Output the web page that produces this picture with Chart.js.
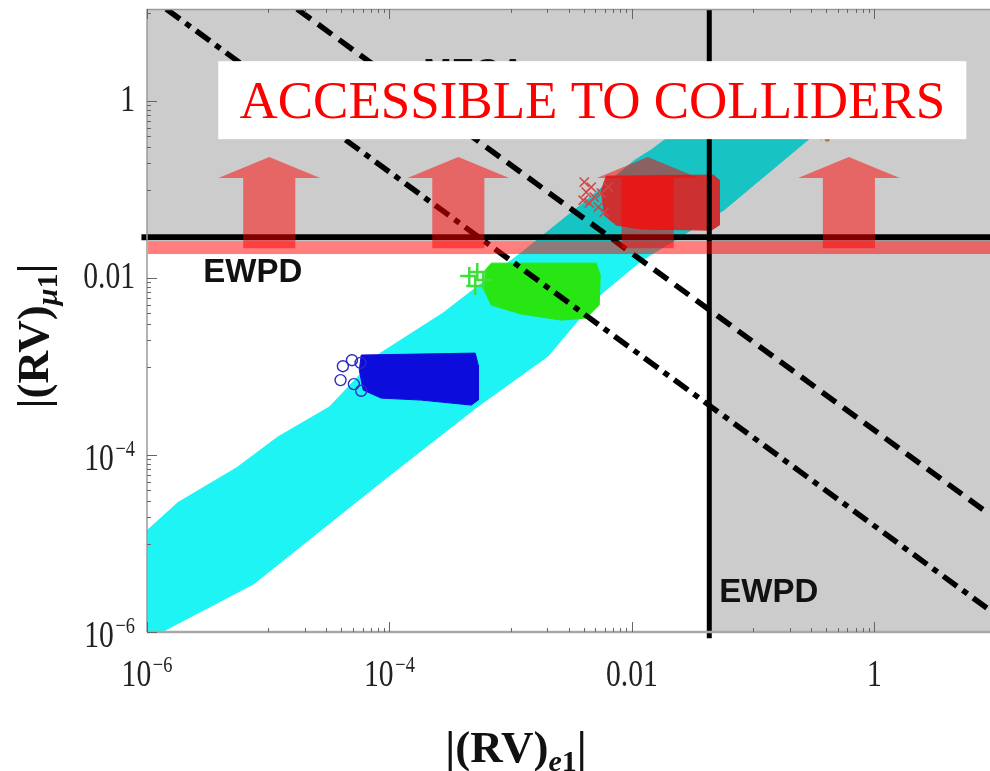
<!DOCTYPE html>
<html><head><meta charset="utf-8">
<script src="https://cdn.jsdelivr.net/npm/chart.js@4/dist/chart.umd.min.js"></script>
<style>html,body{margin:0;padding:0;background:#fff;overflow:hidden}#wrap{position:relative;width:990px;height:771px}</style>
</head><body><div id="wrap"><canvas id="c" width="990" height="771"></canvas></div>
<script>
// ---------- data ----------
const X_RANGE = [1e-6, 9];
const Y_RANGE = [1e-6, 11];
const MAJOR_TICKS = [1e-6, 1e-4, 1e-2, 1];
const MAJOR_LABELS = [['10', '\u22126'], ['10', '\u22124'], ['0.01', ''], ['1', '']];
const MINOR_DECADES = [1e-5, 1e-3, 1e-1, 10];
const MINOR_STEPS = [1, 2, 3, 4, 5, 6, 7, 8, 9];

// cyan scan band (outline of the cloud)
const cyanX = [1e-6, 1e-6, 1.8e-6, 5.5e-6, 1.2e-5, 3.2e-5, 8.3e-5, 2.75e-4, 1.26e-3, 3.98e-3, 0.0105, 0.0145, 0.0316, 0.063, 0.5,
               0.288, 0.0575, 0.0120, 0.00525, 0.00204, 5.25e-4, 8.3e-5, 7.6e-6, 1.32e-6, 1e-6];
const cyanY = [1e-6, 1.4e-5, 2.9e-5, 7.2e-5, 1.6e-4, 3.5e-4, 1.4e-3, 4.0e-3, 0.020, 0.0708, 0.214, 0.282, 0.63, 1.26, 1.26,
               0.372, 0.0589, 0.0158, 0.00617, 0.00132, 3.47e-4, 4.8e-5, 3.5e-6, 1e-6, 1e-6];
// blue benchmark cloud
const blueX = [5.85e-5, 5.1e-4, 5.4e-4, 5.4e-4, 4.73e-4, 1.83e-4, 8.55e-5, 6.08e-5, 5.64e-5, 5.85e-5];
const blueY = [1.35e-3, 1.42e-3, 1.04e-3, 4.18e-4, 3.67e-4, 4.18e-4, 4.4e-4, 5.42e-4, 9.1e-4, 1.35e-3];
const blueCircX = [4.13e-5, 4.91e-5, 5.78e-5, 3.95e-5, 5.09e-5, 5.85e-5];
const blueCircY = [1.01e-3, 1.18e-3, 1.10e-3, 7.03e-4, 6.34e-4, 5.33e-4];
// green benchmark cloud
const greenX = [6.92e-4, 5.08e-3, 5.48e-3, 5.38e-3, 4.2e-3, 2.62e-3, 1.22e-3, 6.92e-4, 6.05e-4, 6.17e-4, 6.92e-4];
const greenY = [0.01476, 0.01476, 0.0108, 4.95e-3, 3.53e-3, 3.35e-3, 3.92e-3, 4.95e-3, 7.31e-3, 0.0123, 0.01476];
const greenPlusX = [4.55e-4, 5.3e-4, 5.1e-4, 5.94e-4];
const greenPlusY = [0.01054, 0.01169, 8.13e-3, 9.49e-3];
// red benchmark cloud
const redX = [6.15e-3, 0.0470, 0.0526, 0.0526, 0.0452, 0.01197, 7.43e-3, 5.92e-3, 5.6e-3, 6.15e-3];
const redY = [0.142, 0.146, 0.128, 0.0397, 0.0348, 0.0358, 0.0397, 0.0515, 0.0986, 0.142];
const redCrossX = [4.05e-3, 4.62e-3, 4.2e-3, 4.9e-3, 5.6e-3, 4.45e-3, 5.28e-3, 5.92e-3, 6.38e-3, 3.97e-3];
const redCrossY = [0.1216, 0.1067, 0.0937, 0.0822, 0.0912, 0.0703, 0.0634, 0.0557, 0.1067, 0.0760];
// orange points (mostly hidden)
const orangeX = [0.366, 0.409];
const orangeY = [0.392, 0.372];

// bounds
const EWPD_X = 0.0435;            // |(RV)e1| bound
const EWPD_Y = 0.029;             // |(RV)mu1| bound
const ewpdVX = [EWPD_X, EWPD_X], ewpdVY = [11, 8.5e-7];
const ewpdHX = [9e-7, 9],        ewpdHY = [EWPD_Y, EWPD_Y];
const dashedX = [1.73e-5, 9],    dashedY = [11, 2.12e-5];     // |RV_e1 RV_mu1| ~ 1.9e-4
const dashDotX = [1.44e-6, 9],   dashDotY = [11, 1.76e-6];    // |RV_e1 RV_mu1| ~ 1.6e-5

// annotation anchors (data units)
const arrowCentersX = [1.02e-5, 3.7e-4, 0.0135, 0.617];
const arrowTipY = 0.233, arrowHeadBaseY = 0.135, arrowTailY = 0.0218;
const arrowHeadHalfDec = 0.42, arrowShaftHalfDec = 0.215;
const bandX = [1.02e-6, 9], bandY = [0.0262, 0.0187];
const boxX = [3.87e-6, 5.74], boxY = [2.83, 0.372];
const TITLE = 'ACCESSIBLE TO COLLIDERS';
const ewpdLabels = [{t: 'EWPD', x: 2.91e-6, y: 9.0e-3}, {t: 'EWPD', x: 0.0526, y: 2.18e-6}];
const megaLabel = {t: 'MEGA', x: 5.0e-4, y: 1.64};
const X_TITLE = [['|(RV)', 'm'], ['e', 'si'], ['1', 's'], ['|', 'm']];
const Y_TITLE = [['|(RV)', 'm'], ['\u03bc', 'si'], ['1', 's'], ['|', 'm']];

// ---------- chart ----------
const pts = (xs, ys) => xs.map((v, i) => ({x: v, y: ys[i]}));
const SERIF = '"Liberation Serif", "Times New Roman", serif';
const SANS = '"Liberation Sans", Arial, sans-serif';

function richText(ctx, parts, fonts) {
  let w = 0;
  const m = parts.map(([t, k]) => { ctx.font = fonts[k].font; const ww = ctx.measureText(t).width; w += ww; return ww; });
  return {w, m};
}
function drawRich(ctx, parts, fonts, cx, cy) {
  const {w, m} = richText(ctx, parts, fonts);
  let x = cx - w / 2;
  parts.forEach(([t, k], i) => { ctx.font = fonts[k].font; ctx.fillText(t, x, cy + fonts[k].dy); x += m[i]; });
}

const deco = {
  id: 'deco',
  afterDatasetDraw(chart, args) {
    if (chart.data.datasets[args.index].label !== 'redCross') return;
    const {ctx, chartArea: a, scales: {x, y}} = chart;
    const vx = x.getPixelForValue(EWPD_X), hy = y.getPixelForValue(EWPD_Y);
    ctx.save();
    ctx.fillStyle = 'rgba(0,0,0,0.2)';
    ctx.fillRect(a.left, a.top, a.right - a.left, hy - a.top);
    ctx.fillRect(vx, hy, a.right - vx, a.bottom - hy);
    ctx.restore();
  },
  afterDatasetsDraw(chart) {
    const {ctx, chartArea: a, scales: {x, y}} = chart;
    const px = v => x.getPixelForValue(v), py = v => y.getPixelForValue(v);
    ctx.save();
    // hidden label behind the box
    ctx.fillStyle = '#111';
    ctx.font = 'bold 34px ' + SANS; ctx.textAlign = 'center'; ctx.textBaseline = 'alphabetic';
    ctx.fillText(megaLabel.t, px(megaLabel.x), py(megaLabel.y));

    // frame
    ctx.strokeStyle = '#9a9a9a'; ctx.lineWidth = 1.5;
    ctx.beginPath();
    ctx.moveTo(a.right, a.top + 0.5); ctx.lineTo(a.left, a.top + 0.5); ctx.lineTo(a.left, a.bottom);
    ctx.stroke();
    ctx.strokeStyle = '#a8a8a8'; ctx.lineWidth = 2.5;
    ctx.beginPath(); ctx.moveTo(a.left, a.bottom); ctx.lineTo(a.right, a.bottom); ctx.stroke();
    // ticks (inward)
    ctx.strokeStyle = '#666'; ctx.lineWidth = 1;
    const tickList = [];
    MAJOR_TICKS.forEach(v => tickList.push([v, 10]));
    MINOR_DECADES.forEach(d => MINOR_STEPS.forEach(k => tickList.push([d * k, 4])));
    ctx.beginPath();
    tickList.forEach(([v, len]) => {
      const X = px(v);
      if (X >= a.left - 0.5 && X <= a.right) {
        ctx.moveTo(Math.round(X) + 0.5, a.bottom); ctx.lineTo(Math.round(X) + 0.5, a.bottom - len);
        ctx.moveTo(Math.round(X) + 0.5, a.top); ctx.lineTo(Math.round(X) + 0.5, a.top + len);
      }
      const Y = py(v);
      if (Y >= a.top && Y <= a.bottom + 0.5) {
        ctx.moveTo(a.left, Math.round(Y) + 0.5); ctx.lineTo(a.left + len, Math.round(Y) + 0.5);
      }
    });
    ctx.stroke();

    // red band
    ctx.fillStyle = 'rgba(255,0,0,0.5)';
    ctx.fillRect(px(bandX[0]), py(bandY[0]), px(bandX[1]) - px(bandX[0]), py(bandY[1]) - py(bandY[0]));
    // arrows
    arrowCentersX.forEach(c => {
      const lc = Math.log10(c);
      const hl = px(Math.pow(10, lc - arrowHeadHalfDec)), hr = px(Math.pow(10, lc + arrowHeadHalfDec));
      const sl = px(Math.pow(10, lc - arrowShaftHalfDec)), sr = px(Math.pow(10, lc + arrowShaftHalfDec));
      const cxp = px(c);
      ctx.beginPath();
      ctx.moveTo(cxp, py(arrowTipY));
      ctx.lineTo(hr, py(arrowHeadBaseY));
      ctx.lineTo(sr, py(arrowHeadBaseY));
      ctx.lineTo(sr, py(arrowTailY));
      ctx.lineTo(sl, py(arrowTailY));
      ctx.lineTo(sl, py(arrowHeadBaseY));
      ctx.lineTo(hl, py(arrowHeadBaseY));
      ctx.closePath();
      ctx.fill();
    });
    // white box + title
    const bx0 = px(boxX[0]), bx1 = px(boxX[1]), by0 = py(boxY[0]), by1 = py(boxY[1]);
    ctx.fillStyle = '#fff';
    ctx.fillRect(bx0, by0, bx1 - bx0, by1 - by0);
    ctx.fillStyle = '#ff0000';
    ctx.font = '53px ' + SERIF; ctx.textAlign = 'center'; ctx.textBaseline = 'alphabetic';
    ctx.fillText(TITLE, (bx0 + bx1) / 2, (by0 + by1) / 2 + 18);

    // EWPD labels
    ctx.fillStyle = '#111'; ctx.font = 'bold 33px ' + SANS; ctx.textAlign = 'left';
    ewpdLabels.forEach(l => ctx.fillText(l.t, px(l.x), py(l.y)));

    // tick labels
    ctx.fillStyle = '#222';
    const SX = 0.8;
    const tl = (parts, X, Y, align) => {
      ctx.save(); ctx.translate(X, Y); ctx.scale(SX, 1);
      ctx.textAlign = 'left';
      ctx.font = '37px ' + SERIF; const wb = ctx.measureText(parts[0]).width;
      ctx.font = '23px ' + SERIF; const ws = parts[1] ? ctx.measureText(parts[1]).width + 2 : 0;
      const tot = wb + ws;
      const s = align === 'center' ? -tot / 2 : -tot;
      ctx.font = '37px ' + SERIF; ctx.fillText(parts[0], s, 0);
      if (parts[1]) { ctx.font = '23px ' + SERIF; ctx.fillText(parts[1], s + wb + 2, -14); }
      ctx.restore();
    };
    MAJOR_TICKS.forEach((v, i) => {
      const X = px(v);
      tl(MAJOR_LABELS[i], X, 686, 'center');
      const Y = py(v);
      tl(MAJOR_LABELS[i], a.left - 12, Y + (MAJOR_LABELS[i][1] ? 15 : 10), 'right');
    });

    // axis titles
    ctx.fillStyle = '#111';
    const tf = {m: {font: 'bold 45px ' + SERIF, dy: 0}, s: {font: 'bold 30px ' + SERIF, dy: 9}, si: {font: 'italic bold 30px ' + SERIF, dy: 9}};
    drawRich(ctx, X_TITLE, tf, 516, 762);
    ctx.save(); ctx.translate(48, 336); ctx.rotate(-Math.PI / 2);
    drawRich(ctx, Y_TITLE, tf, 0, 0);
    ctx.restore();
    ctx.restore();
  }
};

const polyDs = (label, xs, ys, color, order) => ({
  label, data: pts(xs, ys), showLine: true, fill: 'shape', tension: 0,
  backgroundColor: color, borderColor: color, borderWidth: 1, pointRadius: 0, order
});

new Chart(document.getElementById('c'), {
  type: 'scatter',
  data: {
    datasets: [
      polyDs('cyan', cyanX, cyanY, 'rgb(30,244,244)', 20),
      {label: 'orange', data: pts(orangeX, orangeY), pointRadius: 2.5, backgroundColor: '#f0962e', borderWidth: 0, order: 19},
      polyDs('blue', blueX, blueY, '#0c0cdc', 18),
      {label: 'blueCircles', data: pts(blueCircX, blueCircY), pointStyle: 'circle', pointRadius: 5.5,
       backgroundColor: 'rgba(0,0,0,0)', borderColor: '#2b2bc4', borderWidth: 1.4, order: 17},
      polyDs('green', greenX, greenY, '#28e614', 16),
      {label: 'greenPlus', data: pts(greenPlusX, greenPlusY), pointStyle: 'cross', pointRadius: 9,
       backgroundColor: '#3ce03c', borderColor: '#3ce03c', borderWidth: 2.5, order: 15},
      polyDs('red', redX, redY, 'rgb(255,60,60)', 14),
      {label: 'redCross', data: pts(redCrossX, redCrossY), pointStyle: 'crossRot', pointRadius: 6.5,
       backgroundColor: '#ff5a5a', borderColor: '#ff5a5a', borderWidth: 1.6, order: 13},
      {label: 'dashed', data: pts(dashedX, dashedY), showLine: true, borderColor: '#000', borderWidth: 5.5,
       borderDash: [17, 9], pointRadius: 0, fill: false, order: 3},
      {label: 'dashdot', data: pts(dashDotX, dashDotY), showLine: true, borderColor: '#000', borderWidth: 5.5,
       borderDash: [17, 7, 6, 7], pointRadius: 0, fill: false, order: 3},
      {label: 'ewpdV', data: pts(ewpdVX, ewpdVY), showLine: true, borderColor: '#000', borderWidth: 5,
       pointRadius: 0, fill: false, clip: false, order: 2},
      {label: 'ewpdH', data: pts(ewpdHX, ewpdHY), showLine: true, borderColor: '#000', borderWidth: 6,
       pointRadius: 0, fill: false, clip: false, order: 2}
    ]
  },
  options: {
    responsive: false, animation: false, devicePixelRatio: 1, events: [],
    layout: {autoPadding: false, padding: {left: 147, right: 0, top: 9, bottom: 139}},
    plugins: {legend: {display: false}, tooltip: {enabled: false}},
    scales: {
      x: {type: 'logarithmic', min: X_RANGE[0], max: X_RANGE[1], display: false},
      y: {type: 'logarithmic', min: Y_RANGE[0], max: Y_RANGE[1], display: false}
    }
  },
  plugins: [deco]
});
</script></body></html>
